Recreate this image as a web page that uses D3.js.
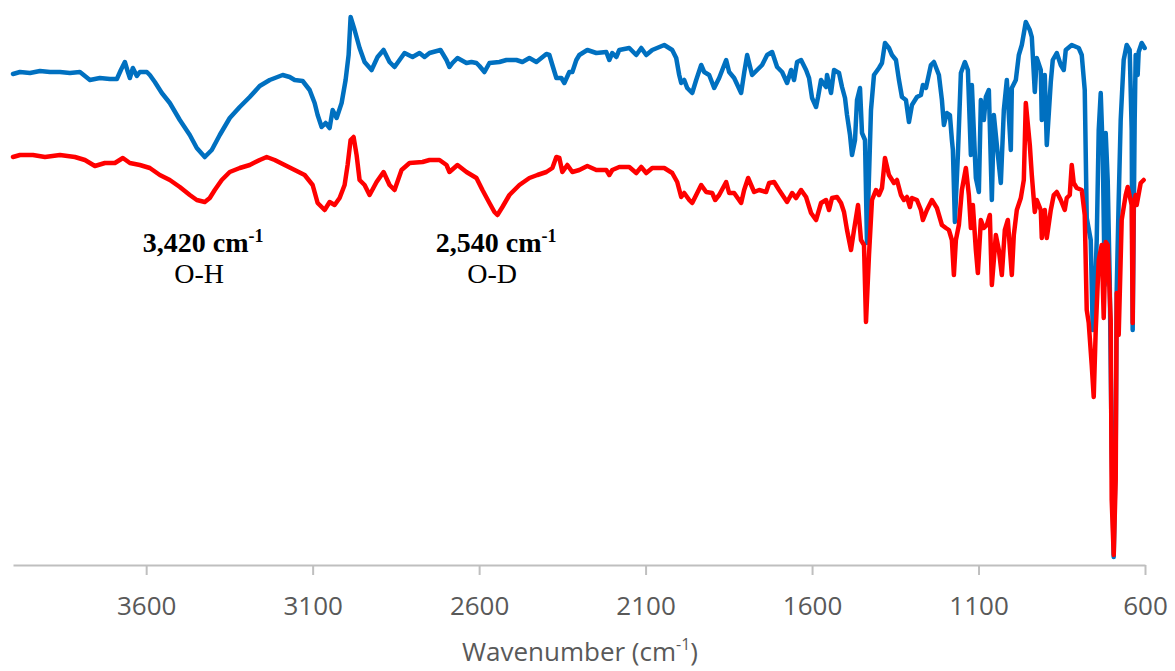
<!DOCTYPE html>
<html>
<head>
<meta charset="utf-8">
<script src="https://cdn.jsdelivr.net/npm/d3@7"></script>
<style>
    body { margin: 0; background: #fff; }
</style>
</head>
<body>
<script>
// wavenumber (cm-1), transmittance (arbitrary, offset)
var spectrumOH = [
    [4000, 98.2], [3979, 98.6], [3949, 98.4], [3919, 98.8], [3889, 98.6], [3859, 98.6], [3829, 98.4],
    [3799, 98.6], [3769, 97.0], [3739, 97.4], [3709, 97.2], [3688, 97.2], [3676, 99.0], [3664, 100.6],
    [3655, 98.6], [3649, 97.4], [3640, 99.4], [3628, 97.8], [3619, 98.6], [3598, 98.6], [3589, 98.0],
    [3574, 96.6], [3553, 94.4], [3529, 92.4], [3499, 89.0], [3469, 86.0], [3448, 83.4], [3424, 81.6],
    [3403, 83.0], [3379, 86.0], [3349, 89.4], [3319, 91.6], [3289, 93.6], [3259, 95.8], [3229, 97.0],
    [3190, 98.0], [3169, 97.6], [3154, 97.0], [3130, 96.8], [3109, 95.0], [3094, 92.4], [3085, 90.0],
    [3073, 87.6], [3061, 88.4], [3049, 87.4], [3040, 91.0], [3028, 89.4], [3013, 92.4], [3001, 97.0],
    [2992, 102.0], [2986, 109.6], [2974, 107.0], [2959, 103.4], [2944, 100.6], [2923, 99.0], [2905, 101.6],
    [2887, 103.0], [2869, 100.6], [2854, 99.6], [2824, 102.4], [2800, 101.6], [2779, 102.4], [2764, 101.6],
    [2749, 102.4], [2716, 103.0], [2698, 101.0], [2689, 99.6], [2680, 100.4], [2665, 101.4], [2638, 100.4],
    [2623, 100.6], [2608, 100.4], [2599, 99.8], [2584, 98.6], [2569, 100.4], [2539, 100.6], [2518, 101.0],
    [2488, 101.0], [2470, 100.6], [2449, 101.4], [2428, 100.6], [2398, 102.2], [2389, 102.0], [2380, 100.0],
    [2368, 97.4], [2353, 97.4], [2344, 96.4], [2329, 98.6], [2320, 98.6], [2308, 101.0], [2299, 102.0],
    [2275, 103.0], [2248, 102.4], [2218, 102.6], [2209, 101.0], [2200, 102.4], [2188, 101.6], [2179, 103.0],
    [2149, 103.4], [2128, 102.0], [2113, 103.4], [2098, 102.0], [2080, 103.0], [2044, 104.0], [2020, 103.0],
    [2008, 101.4], [1999, 98.0], [1993, 96.4], [1984, 97.0], [1975, 95.4], [1960, 94.4], [1948, 97.0],
    [1933, 100.0], [1924, 98.6], [1909, 98.0], [1894, 95.4], [1879, 97.4], [1858, 101.0], [1849, 98.6],
    [1834, 97.4], [1813, 94.4], [1804, 98.4], [1795, 102.0], [1780, 98.0], [1765, 99.0], [1750, 100.0],
    [1735, 102.0], [1720, 102.6], [1705, 99.6], [1690, 98.6], [1675, 96.4], [1663, 99.0], [1654, 97.0],
    [1645, 100.6], [1633, 101.0], [1618, 99.0], [1609, 97.4], [1600, 93.4], [1588, 91.6], [1582, 93.6],
    [1573, 97.0], [1558, 95.6], [1555, 98.0], [1543, 94.4], [1534, 99.0], [1519, 98.4], [1510, 95.6],
    [1501, 93.4], [1495, 90.0], [1486, 86.0], [1480, 82.0], [1471, 85.0], [1465, 93.0], [1456, 95.4],
    [1450, 86.4], [1441, 85.0], [1435, 64.4], [1423, 91.0], [1414, 98.0], [1399, 99.4], [1390, 100.4],
    [1381, 104.4], [1369, 103.4], [1360, 102.0], [1348, 101.0], [1339, 97.0], [1330, 93.6], [1318, 93.0],
    [1309, 88.6], [1300, 92.0], [1285, 93.6], [1273, 94.0], [1267, 96.0], [1258, 95.4], [1243, 100.0],
    [1234, 100.6], [1219, 98.0], [1210, 93.0], [1204, 88.0], [1195, 90.4], [1186, 90.0], [1180, 85.0],
    [1177, 83.0], [1171, 68.6], [1162, 82.0], [1153, 98.4], [1141, 100.6], [1132, 99.0], [1123, 82.0],
    [1120, 96.0], [1108, 77.4], [1099, 74.6], [1093, 93.0], [1084, 89.0], [1078, 93.6], [1069, 95.0],
    [1060, 73.0], [1054, 90.0], [1045, 84.0], [1033, 76.4], [1024, 91.0], [1015, 97.0], [1003, 83.0],
    [1000, 95.4], [988, 97.0], [979, 102.0], [970, 104.0], [958, 108.6], [946, 107.0], [940, 105.6],
    [931, 94.6], [925, 101.4], [913, 99.0], [910, 89.0], [901, 98.0], [895, 84.0], [883, 96.6],
    [877, 101.0], [865, 102.4], [853, 100.0], [844, 99.0], [838, 103.0], [820, 104.0], [799, 103.4],
    [790, 102.0], [781, 95.0], [775, 69.4], [763, 65.0], [757, 47.0], [751, 53.0], [745, 65.0],
    [739, 87.0], [733, 94.4], [727, 83.0], [721, 56.0], [718, 86.4], [712, 77.0], [706, 57.0],
    [700, 23.0], [694, 1.6], [688, 23.0], [685, 55.0], [679, 73.0], [673, 89.0], [664, 101.0],
    [655, 104.0], [646, 103.0], [640, 87.0], [637, 47.0], [631, 89.0], [628, 102.0], [622, 98.0],
    [619, 102.6], [610, 104.4], [601, 103.4]
];

var spectrumOD = [
    [4000, 81.6], [3979, 82.0], [3940, 82.0], [3904, 81.6], [3859, 82.0], [3814, 81.6], [3784, 81.0],
    [3754, 79.8], [3724, 80.4], [3694, 80.4], [3670, 81.4], [3649, 80.4], [3619, 80.0], [3589, 79.4],
    [3559, 78.0], [3529, 77.0], [3499, 75.6], [3469, 74.0], [3448, 73.0], [3424, 72.6], [3409, 73.4],
    [3394, 75.0], [3373, 77.0], [3349, 78.6], [3319, 79.4], [3289, 80.0], [3259, 81.0], [3238, 81.6],
    [3214, 81.0], [3184, 80.0], [3154, 79.0], [3124, 78.0], [3100, 76.0], [3085, 72.4], [3064, 71.0],
    [3049, 72.6], [3034, 72.0], [3019, 73.4], [3004, 76.0], [2995, 80.0], [2986, 85.0], [2977, 85.6],
    [2968, 82.0], [2959, 77.0], [2944, 76.0], [2929, 74.0], [2908, 76.6], [2887, 78.6], [2869, 76.0],
    [2854, 75.0], [2833, 79.0], [2809, 80.4], [2770, 80.6], [2749, 81.0], [2719, 81.0], [2698, 80.0],
    [2689, 78.6], [2665, 80.0], [2638, 78.6], [2608, 77.4], [2590, 75.0], [2569, 72.4], [2554, 70.6],
    [2545, 70.0], [2530, 71.6], [2509, 74.0], [2479, 76.0], [2449, 77.4], [2425, 78.0], [2398, 78.6],
    [2380, 79.4], [2368, 81.6], [2359, 81.4], [2350, 78.6], [2335, 80.0], [2320, 78.6], [2299, 79.0],
    [2275, 79.8], [2248, 79.0], [2218, 79.0], [2209, 78.0], [2200, 79.0], [2179, 79.6], [2149, 79.6],
    [2128, 78.4], [2113, 79.6], [2098, 78.4], [2080, 79.4], [2044, 79.4], [2020, 78.4], [2005, 76.6],
    [1993, 73.6], [1984, 74.4], [1969, 73.0], [1960, 72.4], [1948, 74.0], [1933, 76.0], [1918, 74.6],
    [1900, 74.4], [1891, 73.0], [1879, 74.0], [1858, 76.6], [1849, 74.4], [1834, 74.4], [1813, 72.4],
    [1804, 75.0], [1792, 77.4], [1774, 74.6], [1759, 75.0], [1738, 74.6], [1729, 76.4], [1714, 76.6],
    [1699, 75.0], [1675, 72.6], [1660, 74.4], [1648, 73.4], [1633, 75.0], [1618, 73.6], [1603, 70.4],
    [1588, 69.0], [1573, 72.4], [1558, 73.0], [1549, 71.0], [1540, 73.4], [1525, 73.6], [1513, 72.4],
    [1504, 70.6], [1495, 67.0], [1483, 63.0], [1474, 67.0], [1462, 72.0], [1453, 65.0], [1444, 64.0],
    [1438, 48.6], [1429, 62.0], [1420, 73.0], [1408, 75.0], [1399, 74.0], [1390, 75.4], [1381, 81.4],
    [1369, 78.0], [1354, 76.4], [1345, 77.0], [1333, 74.0], [1324, 73.0], [1315, 73.6], [1306, 71.6],
    [1300, 73.4], [1285, 73.0], [1273, 71.0], [1267, 69.0], [1255, 71.0], [1240, 73.0], [1225, 71.4],
    [1210, 68.0], [1198, 67.4], [1189, 67.0], [1180, 65.0], [1174, 58.0], [1168, 65.0], [1159, 68.0],
    [1150, 75.0], [1138, 79.4], [1129, 74.0], [1123, 67.4], [1117, 72.0], [1108, 63.0], [1102, 58.4],
    [1093, 69.0], [1084, 67.4], [1075, 68.0], [1066, 70.0], [1060, 56.0], [1048, 66.0], [1039, 63.0],
    [1030, 58.0], [1021, 67.0], [1012, 69.0], [1000, 58.0], [994, 66.0], [985, 71.0], [973, 73.4],
    [964, 77.0], [958, 92.4], [946, 84.0], [940, 78.0], [931, 70.6], [925, 73.0], [913, 71.0],
    [910, 65.4], [901, 71.0], [895, 65.4], [883, 71.0], [874, 74.0], [865, 74.6], [853, 73.0],
    [841, 71.0], [835, 73.4], [826, 74.0], [820, 80.0], [814, 76.4], [805, 75.4], [790, 75.0],
    [781, 70.0], [775, 51.0], [769, 48.4], [760, 40.0], [754, 33.6], [748, 47.0], [739, 61.0],
    [730, 64.0], [724, 49.4], [718, 64.6], [712, 64.0], [703, 49.0], [700, 13.0], [694, 2.0],
    [688, 17.0], [685, 54.4], [679, 46.0], [670, 69.0], [658, 74.0], [652, 75.6], [640, 72.0],
    [637, 48.4], [634, 72.0], [628, 74.0], [625, 72.0], [613, 76.4], [604, 77.0]
];

var xTicks = [3600, 3100, 2600, 2100, 1600, 1100, 600];
var peakLabels = ['3,420 cm', '2,540 cm'];
var bondLabels = ['O-H', 'O-D'];
var peakPositions = [3420, 2540];

var width = 1175;
var height = 671;

var svg = d3.select('body')
    .append('svg')
    .attr('width', width)
    .attr('height', height);

var x = d3.scaleLinear().domain([4000, 600]).range([13, 1145]);
var y = d3.scaleLinear().domain([0, 110]).range([565, 15]);

// axis
var axis = svg.append('g')
    .attr('transform', 'translate(0,565)')
    .call(d3.axisBottom(x).tickValues(xTicks).tickFormat(d3.format('d'))
        .tickSizeInner(10).tickSizeOuter(0).tickPadding(22));

axis.select('.domain').attr('stroke', '#bfbfbf').attr('stroke-width', 2);
axis.selectAll('.tick line').attr('stroke', '#bfbfbf').attr('stroke-width', 2);
axis.selectAll('.tick text')
    .attr('fill', '#595959')
    .attr('font-family', 'Open Sans')
    .attr('font-size', 26);

var title = svg.append('text')
    .attr('x', 580)
    .attr('y', 661)
    .attr('text-anchor', 'middle')
    .attr('fill', '#595959')
    .attr('font-family', 'Open Sans')
    .attr('font-size', 26);
title.append('tspan').text('Wavenumber (cm');
title.append('tspan').attr('font-size', 16).attr('dy', -11).text('-1');
title.append('tspan').attr('dy', 11).text(')');

// spectra
var line = d3.line()
    .x(function (d) { return x(d[0]); })
    .y(function (d) { return y(d[1]); });

svg.append('path')
    .datum(spectrumOH)
    .attr('d', line)
    .attr('fill', 'none')
    .attr('stroke', '#0070c0')
    .attr('stroke-width', 4.5)
    .attr('stroke-linejoin', 'round')
    .attr('stroke-linecap', 'round');

svg.append('path')
    .datum(spectrumOD)
    .attr('d', line)
    .attr('fill', 'none')
    .attr('stroke', '#ff0000')
    .attr('stroke-width', 4.5)
    .attr('stroke-linejoin', 'round')
    .attr('stroke-linecap', 'round');

// annotations
for (let i = 0; i < peakLabels.length; i++) {
    var cx = x(peakPositions[i]) - 3;
    var t = svg.append('text')
        .attr('x', cx)
        .attr('y', 252)
        .attr('text-anchor', 'middle')
        .attr('font-family', 'Liberation Serif, Times New Roman, serif')
        .attr('font-weight', 'bold')
        .attr('font-size', 28)
        .attr('fill', '#000');
    t.append('tspan').text(peakLabels[i]);
    t.append('tspan').attr('font-size', 18).attr('dy', -10).text('-1');

    svg.append('text')
        .attr('x', cx - 4)
        .attr('y', 283)
        .attr('text-anchor', 'middle')
        .attr('font-family', 'Liberation Serif, Times New Roman, serif')
        .attr('font-size', 28)
        .attr('fill', '#000')
        .text(bondLabels[i]);
}
</script>
</body>
</html>
